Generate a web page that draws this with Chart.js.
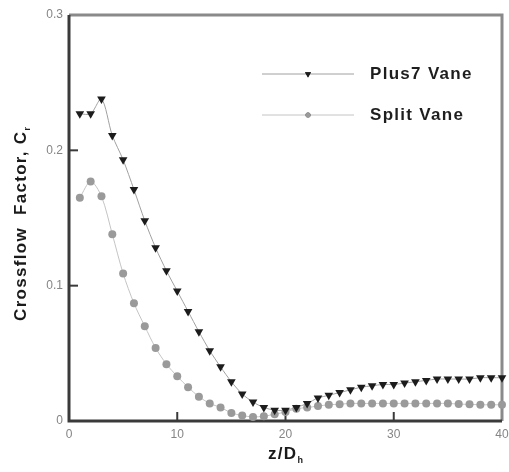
<!DOCTYPE html>
<html>
<head>
<meta charset="utf-8">
<script src="https://cdn.jsdelivr.net/npm/chart.js@4.4.1/dist/chart.umd.min.js"></script>
<style>
html,body{margin:0;padding:0;background:#fff;}
#wrap{width:509px;height:472px;position:relative;}
</style>
</head>
<body>
<div id="wrap"><canvas id="c" width="509" height="472"></canvas></div>
<script>
// ---- data ----
const zDh = [1,2,3,4,5,6,7,8,9,10,11,12,13,14,15,16,17,18,19,20,21,22,23,24,25,26,27,28,29,30,31,32,33,34,35,36,37,38,39,40];
const plus7Vane = [0.227,0.227,0.238,0.211,0.193,0.171,0.148,0.128,0.111,0.096,0.081,0.066,0.052,0.040,0.029,0.020,0.014,0.010,0.008,0.008,0.010,0.013,0.017,0.019,0.021,0.023,0.025,0.026,0.027,0.027,0.028,0.029,0.030,0.031,0.031,0.031,0.031,0.032,0.032,0.032];
const splitVane = [0.165,0.177,0.166,0.138,0.109,0.087,0.070,0.054,0.042,0.033,0.025,0.018,0.013,0.010,0.006,0.004,0.003,0.0035,0.005,0.0067,0.009,0.010,0.011,0.012,0.0124,0.013,0.013,0.013,0.013,0.013,0.013,0.013,0.013,0.013,0.013,0.0125,0.0123,0.012,0.012,0.012];
const seriesNames = ['Plus7 Vane','Split Vane'];
const xTicks = [0,10,20,30,40];
const yTicks = [0,0.1,0.2,0.3];
const xTitle = ['z/D','h'];
const yTitle = ['Crossflow  Factor, C','r'];

const toPts = (vals) => vals.map((v,i)=>({x:zDh[i], y:v}));
const FONT = '"Liberation Sans", Arial, sans-serif';
const SPACING = '1.3px';

function drawSubTitle(ctx, parts, cx, base){
  ctx.letterSpacing = SPACING;
  ctx.font = 'bold 17px ' + FONT;
  const w1 = ctx.measureText(parts[0]).width;
  ctx.letterSpacing = '0px';
  ctx.font = 'bold 9px ' + FONT;
  const w2 = ctx.measureText(parts[1]).width;
  const sx = cx - (w1 + w2)/2;
  ctx.letterSpacing = SPACING;
  ctx.font = 'bold 17px ' + FONT;
  ctx.fillText(parts[0], sx, base);
  ctx.letterSpacing = '0px';
  ctx.font = 'bold 9px ' + FONT;
  ctx.fillText(parts[1], sx + w1, base + 4);
}

const framePlugin = {
  id:'frame',
  beforeDatasetsDraw(chart){
    const {ctx, chartArea:a, scales} = chart;
    ctx.save();
    ctx.lineWidth = 3;
    ctx.strokeStyle = '#8a8a8a';
    ctx.beginPath();
    ctx.moveTo(a.left, a.top); ctx.lineTo(a.right, a.top); ctx.lineTo(a.right, a.bottom);
    ctx.stroke();
    ctx.strokeStyle = '#3a3a3a';
    ctx.beginPath();
    ctx.moveTo(a.left, a.top); ctx.lineTo(a.left, a.bottom); ctx.lineTo(a.right, a.bottom);
    ctx.stroke();
    ctx.lineWidth = 2;
    xTicks.slice(1,-1).forEach(v=>{
      const px = scales.x.getPixelForValue(v);
      ctx.beginPath(); ctx.moveTo(px, a.bottom); ctx.lineTo(px, a.bottom-9); ctx.stroke();
    });
    yTicks.slice(1,-1).forEach(v=>{
      const py = scales.y.getPixelForValue(v);
      ctx.beginPath(); ctx.moveTo(a.left, py); ctx.lineTo(a.left+9, py); ctx.stroke();
    });
    ctx.restore();
  },
  afterDraw(chart){
    const {ctx, chartArea:a} = chart;
    ctx.save();
    ctx.fillStyle = '#1a1a1a';
    ctx.textBaseline = 'alphabetic';
    ctx.textAlign = 'left';
    drawSubTitle(ctx, xTitle, (a.left + a.right)/2, 459);
    ctx.translate(26, 224);
    ctx.rotate(-Math.PI/2);
    drawSubTitle(ctx, yTitle, 0, 0);
    ctx.restore();

    // legend
    ctx.save();
    const lx0 = a.left + 193, lx1 = a.left + 285, tx = a.left + 301;
    const rows = [a.top + 59, a.top + 100];
    chart.data.datasets.forEach((ds, i)=>{
      const y = rows[i];
      ctx.strokeStyle = ds.borderColor;
      ctx.lineWidth = 1;
      ctx.beginPath(); ctx.moveTo(lx0, y); ctx.lineTo(lx1, y); ctx.stroke();
      const mx = (lx0 + lx1)/2;
      Chart.helpers.drawPoint(ctx, {pointStyle: ds.pointStyle, rotation: ds.pointRotation || 0, radius: ds.pointRadius - 1.5, borderWidth: 0}, mx, y);
      ctx.fillStyle = ds.pointBackgroundColor;
      ctx.fill();
      ctx.fillStyle = '#1e1e1e';
      ctx.letterSpacing = SPACING;
      ctx.font = 'bold 17px ' + FONT;
      ctx.textBaseline = 'middle';
      ctx.textAlign = 'left';
      ctx.fillText(ds.label, tx, y);
    });
    ctx.restore();
  }
};

new Chart(document.getElementById('c'), {
  type:'line',
  data:{
    datasets:[
      {label:seriesNames[0], data:toPts(plus7Vane), borderColor:'#a0a0a0', borderWidth:1,
       pointStyle:'triangle', pointRotation:180, pointRadius:5, pointBackgroundColor:'#1c1c1c',
       pointBorderColor:'#1c1c1c', pointBorderWidth:0, tension:0.3, clip:false},
      {label:seriesNames[1], data:toPts(splitVane), borderColor:'#c4c4c4', borderWidth:1,
       pointStyle:'circle', pointRadius:4, pointBackgroundColor:'#9a9a9a',
       pointBorderColor:'#9a9a9a', pointBorderWidth:0, tension:0.3, clip:false}
    ]
  },
  options:{
    responsive:false,
    animation:false,
    events:[],
    layout:{padding:{left:0, right:7, top:15, bottom:0}},
    plugins:{legend:{display:false}, tooltip:{enabled:false}},
    scales:{
      x:{type:'linear', min:0, max:40,
         afterBuildTicks:(s)=>{ s.ticks = xTicks.map(v=>({value:v})); },
         afterFit:(s)=>{ s.height = 51; s.paddingLeft = 0; s.paddingRight = 0; },
         grid:{display:false, drawTicks:false}, border:{display:false},
         ticks:{padding:6, color:'#858585', font:{family:FONT, size:12}, maxRotation:0, autoSkip:false}},
      y:{type:'linear', min:0, max:0.3,
         afterBuildTicks:(s)=>{ s.ticks = yTicks.map(v=>({value:v})); },
         afterFit:(s)=>{ s.width = 69; s.paddingTop = 0; s.paddingBottom = 0; },
         grid:{display:false, drawTicks:false}, border:{display:false},
         ticks:{padding:6, color:'#858585', font:{family:FONT, size:12},
           callback:(v)=> v===0 ? '0' : String(Math.round(v*10)/10)}}
    }
  },
  plugins:[framePlugin]
});
</script>
</body>
</html>
